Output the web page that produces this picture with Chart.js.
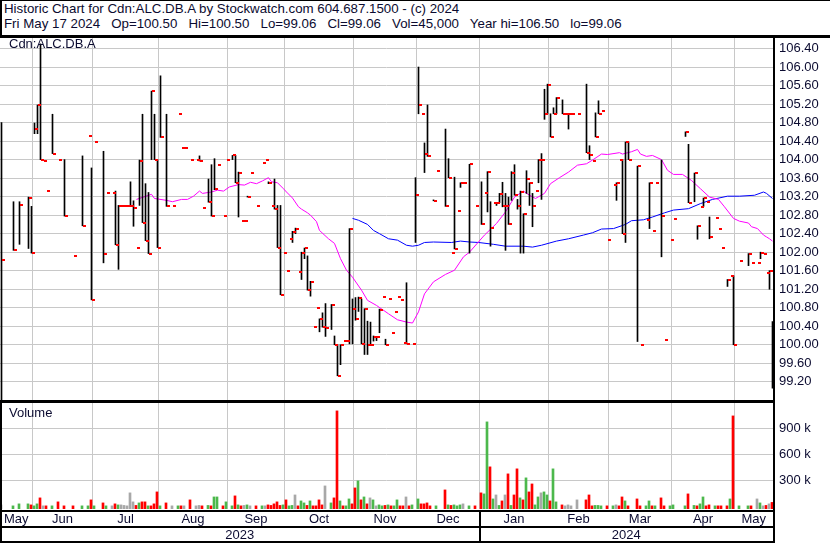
<!DOCTYPE html>
<html>
<head>
<meta charset="utf-8">
<script src="https://cdn.jsdelivr.net/npm/chart.js@4.4.1/dist/chart.umd.min.js"></script>
<style>
  body { margin: 0; background: #fff; }
  #wrap { position: relative; width: 830px; height: 543px; overflow: hidden; font-family: "Liberation Sans", Arial, sans-serif; color: #0b0b30; }
  .txt { position: absolute; font-size: 13px; line-height: 15px; white-space: pre; }
  .hdr { font-size: 13.3px; }
  .ln { position: absolute; background: #000; }
  canvas { position: absolute; left: 0; }
</style>
</head>
<body>
<div id="wrap">
  <div class="txt hdr" style="left:4px; top:1px;">Historic Chart for Cdn:ALC.DB.A by Stockwatch.com 604.687.1500 - (c) 2024</div>
  <div class="txt hdr" style="left:4px; top:16px;">Fri May 17 2024   Op=100.50   Hi=100.50   Lo=99.06   Cl=99.06   Vol=45,000   Year hi=106.50   lo=99.06</div>
  <canvas id="price" width="830" height="392" style="top:23px"></canvas>
  <canvas id="volume" width="830" height="155" style="top:388px"></canvas>
  <div class="txt" style="left:9px; top:36px;">Cdn:ALC.DB.A</div>
  <div class="txt" style="left:9px; top:405px;">Volume</div>
  <div class="ln" style="left:0; top:0; width:830px; height:1px"></div>
  <div class="ln" style="left:0; top:35px; width:830px; height:3px"></div>
  <div class="ln" style="left:0; top:0; width:2px; height:38px"></div>
  <div class="ln" style="left:0; top:400px; width:2px; height:143px"></div>
  <div class="ln" style="left:0; top:400px; width:775px; height:3px"></div>
  <div class="ln" style="left:0; top:510px; width:775px; height:2px"></div>
  <div class="ln" style="left:0; top:526px; width:775px; height:2px"></div>
  <div class="ln" style="left:0; top:541px; width:775px; height:2px"></div>
  <div class="ln" style="left:479px; top:510px; width:2px; height:33px"></div>
  <div class="ln" style="left:773px; top:36px; width:2px; height:507px"></div>
</div>
<script>
// trading day slots (0 = May 17 2023 ... 257 = May 17 2024)
const days   = [0,4,6,9,10,11,12,13,14,15,17,19,21,24,27,29,30,31,34,35,37,38,39,40,41,42,43,44,45,46,47,48,49,50,51,52,53,55,57,59,60,61,63,65,66,67,69,70,71,72,74,75,77,78,79,80,81,82,83,85,87,88,89,90,91,92,93,94,95,96,97,98,99,100,101,102,103,104,105,106,107,108,110,111,112,113,114,115,116,117,118,119,120,121,122,123,124,125,126,127,128,129,130,131,132,133,134,135,137,138,139,140,141,142,144,145,148,149,150,151,152,153,154,156,158,160,161,162,163,164,165,166,167,168,169,170,171,172,173,174,175,176,177,178,179,180,181,182,183,184,185,187,188,189,190,192,195,196,197,198,199,200,202,204,205,206,207,208,209,212,213,215,216,217,218,220,221,223,224,228,229,231,232,233,234,235,236,238,239,240,242,243,244,246,249,250,252,253,254,255,256,257];
const highs  = [104.80,103.09,103.09,103.19,102.99,104.79,105.18,106.50,null,null,104.98,null,104.00,null,104.08,null,103.82,null,104.18,null,null,103.32,103.01,null,null,null,103.52,103.11,null,103.99,104.98,103.48,103.29,105.48,104.98,104.00,105.81,104.98,null,null,null,null,null,null,104.08,null,103.58,103.89,104.02,null,null,null,104.09,104.09,103.73,null,null,103.21,null,null,null,null,103.52,null,103.58,103.01,103.01,null,null,null,102.45,102.52,null,102.00,102.09,101.92,101.37,null,null,100.56,100.69,100.89,100.87,100.19,100.00,100.00,null,null,102.51,100.99,101.02,101.03,100.99,100.78,100.51,100.49,100.19,100.17,100.77,null,100.12,null,null,null,null,null,null,101.34,null,103.61,106.00,null,104.36,105.18,103.13,null,104.66,104.02,null,103.62,null,103.50,null,103.90,null,103.52,null,103.74,103.09,null,103.07,103.27,103.51,103.27,103.19,103.74,103.89,103.14,103.32,102.83,103.76,103.50,103.27,null,104.00,104.13,105.52,105.63,104.99,105.12,105.34,105.29,null,104.99,null,null,105.63,104.30,null,105.01,105.27,null,null,null,103.50,null,104.00,104.38,104.38,103.86,null,null,103.50,null,null,103.99,null,null,null,104.60,104.33,103.71,102.57,null,103.17,null,102.76,null,null,null,101.41,null,101.49,null,101.97,null,null,102.00,null,null,101.60,100.50];
const lows   = [98.50,102.04,102.17,102.08,101.98,104.56,104.56,104.00,null,null,104.13,null,102.78,null,102.57,null,100.97,null,101.77,null,null,102.16,101.63,null,null,null,102.99,102.56,null,103.01,102.64,102.25,101.97,104.00,104.00,102.10,104.48,102.99,null,null,null,null,null,null,103.97,null,103.08,102.78,103.35,null,null,null,104.00,103.50,102.76,null,null,103.19,null,null,null,null,103.48,null,102.93,102.10,101.08,null,null,null,102.21,102.40,null,101.41,101.86,101.18,101.05,null,null,100.28,100.38,100.18,100.33,100.00,99.33,99.57,null,null,100.02,100.02,100.53,100.72,100.02,99.79,99.79,99.99,100.08,100.09,100.26,null,100.00,null,null,null,null,null,null,100.02,null,102.21,104.99,null,103.72,104.07,103.11,null,102.99,103.61,null,102.07,null,103.40,null,101.98,null,102.60,null,102.87,102.13,null,103.01,103.07,102.98,102.04,102.60,103.12,103.23,102.93,101.98,101.98,103.27,103.01,102.55,null,103.50,103.14,104.87,104.99,104.49,104.99,104.99,104.99,null,104.66,null,null,104.15,104.00,null,104.49,104.99,null,null,null,103.12,null,102.40,102.21,104.00,100.07,null,null,102.51,null,null,101.90,null,null,null,104.50,103.07,103.09,102.28,null,102.99,null,102.29,null,null,null,101.26,null,100.00,null,101.71,null,null,101.86,null,null,101.20,99.06];
const closes = [101.84,102.04,103.01,103.18,101.98,104.66,105.17,104.00,103.97,103.32,104.13,104.00,102.78,101.92,102.57,104.50,100.97,104.37,101.96,103.27,103.27,102.16,102.99,102.99,102.99,102.99,102.99,102.96,102.10,103.97,102.64,102.25,101.97,105.48,104.00,102.10,104.48,102.99,102.99,104.99,104.25,104.25,103.99,103.99,103.97,102.96,103.09,102.78,103.36,103.89,102.78,103.99,104.09,103.50,103.71,102.68,102.68,103.19,103.70,102.99,103.93,103.99,103.50,102.99,102.93,102.10,101.08,101.98,101.59,102.29,102.44,102.50,101.58,101.98,102.08,101.19,101.36,100.39,100.80,100.56,100.38,100.37,100.87,100.00,99.33,100.00,100.09,100.08,102.51,100.78,100.56,101.00,100.02,100.78,100.00,99.99,100.17,100.17,100.76,101.04,100.00,100.99,100.25,100.71,101.04,100.97,100.04,100.02,100.02,103.24,105.17,104.99,104.13,104.07,103.11,103.76,102.99,103.61,101.98,102.07,102.90,103.50,103.50,103.90,102.99,102.60,103.27,103.74,102.52,103.07,103.07,103.25,102.99,102.99,102.60,103.72,103.23,102.99,103.30,102.83,103.59,103.50,103.00,103.32,104.00,104.00,104.99,105.62,104.49,104.99,105.33,104.99,104.99,104.99,104.99,104.99,104.15,104.09,103.96,104.49,104.99,105.06,102.27,103.46,103.50,104.00,102.40,104.38,104.00,103.86,100.00,102.70,103.50,102.46,103.50,102.78,100.10,102.26,102.72,104.60,103.07,103.71,102.57,102.98,103.17,103.09,102.33,102.74,102.50,102.09,101.41,101.49,100.00,101.81,101.97,101.77,101.77,101.98,101.96,101.56,101.60,99.06];

// volume: day slot, shares, move (1 up, -1 down, 0 unchanged)
const volDays = [0,4,6,9,10,11,12,13,14,15,17,19,21,24,27,29,30,31,34,35,37,38,39,40,41,42,43,44,45,46,47,48,49,50,51,52,53,55,57,59,60,61,63,65,66,67,69,70,71,72,74,75,77,78,79,80,81,82,83,85,87,88,89,90,91,92,93,94,95,96,97,98,99,100,101,102,103,104,105,106,107,108,110,111,112,113,114,115,116,117,118,119,120,121,122,123,124,125,126,127,128,129,130,131,132,133,134,135,136,137,139,140,141,142,143,145,148,149,150,151,152,153,154,156,158,160,161,162,163,164,165,166,167,168,169,170,171,172,173,174,175,176,177,178,179,180,181,182,183,184,185,187,188,189,190,192,195,196,197,198,199,200,202,204,205,206,207,208,209,212,213,215,216,217,218,220,221,223,224,228,229,231,232,233,234,235,236,238,239,240,242,243,244,246,249,250,252,253,254,255,256,257];
const volumes = [16000,5000,28000,28000,16000,5000,28000,97000,5000,5000,5000,51000,5000,5000,5000,5000,74000,5000,39000,5000,5000,28000,16000,16000,10000,5000,155000,51000,10000,39000,51000,51000,5000,5000,28000,166000,5000,39000,5000,5000,5000,5000,74000,5000,10000,5000,10000,5000,108000,108000,5000,51000,5000,120000,16000,5000,10000,16000,5000,5000,5000,5000,16000,10000,28000,51000,10000,16000,74000,5000,10000,131000,5000,62000,39000,10000,62000,5000,5000,74000,16000,235000,39000,97000,1101000,62000,5000,5000,85000,28000,212000,293000,74000,108000,28000,97000,74000,5000,16000,5000,10000,16000,5000,5000,74000,5000,5000,108000,5000,16000,85000,28000,28000,39000,5000,5000,189000,16000,10000,16000,5000,16000,28000,5000,5000,155000,143000,974000,455000,85000,131000,10000,62000,131000,374000,10000,131000,432000,97000,74000,328000,166000,258000,16000,108000,155000,166000,131000,62000,432000,51000,16000,5000,16000,5000,74000,74000,131000,5000,10000,10000,5000,5000,5000,16000,5000,108000,62000,5000,85000,5000,5000,62000,5000,5000,97000,5000,5000,16000,5000,143000,10000,5000,28000,108000,5000,16000,5000,5000,5000,5000,85000,1043000,5000,5000,5000,85000,39000,5000,10000,28000,45000];
const volMove = [0,1,1,1,-1,1,1,-1,0,-1,1,-1,-1,-1,1,1,-1,1,-1,1,0,-1,1,0,0,0,0,0,-1,1,-1,-1,1,-1,-1,-1,1,-1,0,1,-1,0,-1,0,0,-1,1,-1,1,1,-1,1,1,-1,1,-1,0,1,0,-1,1,0,-1,-1,-1,-1,-1,1,-1,1,1,0,-1,1,1,-1,1,-1,-1,-1,-1,0,1,-1,-1,1,-1,1,1,-1,-1,1,-1,1,-1,0,1,0,1,1,-1,1,-1,1,1,-1,-1,0,-1,1,1,-1,-1,-1,-1,1,-1,1,-1,1,1,1,0,1,-1,-1,1,1,-1,1,0,1,-1,0,-1,1,-1,-1,1,-1,1,-1,-1,1,1,0,1,1,-1,1,1,-1,0,0,0,0,-1,-1,-1,1,1,1,-1,1,0,-1,-1,1,-1,-1,-1,1,1,-1,1,-1,-1,1,1,1,-1,1,-1,1,1,-1,-1,1,-1,-1,-1,1,-1,1,1,-1,0,1,0,-1,0,-1];

// moving averages
const maShortDays = [45,50,51,55,57,60,62,64,66,67,70,72,74,76,79,81,83,85,87,89,90,92,94,95,97,99,100,102,103,105,106,109,111,113,115,117,120,122,125,129,132,135,137,139,141,144,148,151,154,156,161,165,168,171,174,176,178,181,183,186,189,192,195,197,200,202,206,207,210,212,213,215,217,220,222,224,227,230,233,236,239,241,244,246,249,250,252,254,255,256,257];
const maShort = [103.14,103.25,103.16,103.12,103.09,103.14,103.14,103.21,103.32,103.27,103.30,103.34,103.32,103.41,103.46,103.45,103.51,103.48,103.54,103.61,103.52,103.50,103.37,103.30,103.17,102.98,102.93,102.85,102.80,102.66,102.47,102.29,102.19,101.86,101.61,101.46,101.18,100.96,100.85,100.67,100.54,100.49,100.47,100.71,101.10,101.36,101.52,101.61,101.90,102.00,102.37,102.62,102.87,103.19,103.32,103.23,103.16,103.27,103.48,103.61,103.73,103.88,103.91,103.99,104.12,104.11,104.15,104.12,104.17,104.22,104.12,104.07,104.09,104.00,103.77,103.68,103.68,103.55,103.37,103.19,103.14,102.98,102.73,102.67,102.63,102.55,102.51,102.37,102.33,102.29,102.24];
const maLongDays = [117,119,122,124,126,129,132,135,137,139,141,144,150,153,156,159,164,168,174,177,180,185,189,194,197,200,204,208,210,214,217,221,224,229,233,237,242,246,251,254,255,257];
const maLong = [102.73,102.69,102.60,102.47,102.40,102.29,102.26,102.15,102.13,102.15,102.21,102.22,102.21,102.24,102.22,102.21,102.17,102.13,102.13,102.11,102.15,102.24,102.29,102.37,102.42,102.50,102.51,102.60,102.68,102.70,102.76,102.85,102.91,102.94,103.05,103.14,103.21,103.21,103.23,103.30,103.27,103.16];

// price axis ticks, volume axis ticks, calendar
const priceTicks = [99.2,99.6,100.0,100.4,100.8,101.2,101.6,102.0,102.4,102.8,103.2,103.6,104.0,104.4,104.8,105.2,105.6,106.0,106.4];
const volTicks = [300000,600000,900000];
const monthNames = ['May','Jun','Jul','Aug','Sep','Oct','Nov','Dec','Jan','Feb','Mar','Apr','May'];
const monthStart = [11,31,53,76,95,118,139,160,183,203,224,245];
const yearNames = ['2023','2024'];
const yearStart = [160];

const TEXT = '#0b0b30';
const GRID = '#c8c8c8';
const FONT = { family: '"Liberation Sans", Arial, sans-serif', size: 13 };
const LAST = 257.1667;

function closeTick() {
  const c = document.createElement('canvas');
  c.width = 9; c.height = 2;
  const g = c.getContext('2d');
  g.fillStyle = '#ff0000';
  g.fillRect(5, 0, 3, 2);
  return c;
}

// keep the small close ticks crisp
const crisp = {
  id: 'crisp',
  beforeDatasetsDraw(chart) { chart.ctx.imageSmoothingEnabled = false; }
};

function monthGrid(scale) {
  scale.ticks = monthStart.map(d => ({ value: d - 0.5 }));
}

function rightAxis(ticks, fmt, min, max) {
  return {
    position: 'right', min, max,
    afterBuildTicks: s => { s.ticks = ticks.map(v => ({ value: v })); },
    afterFit: s => { s.width = 57; },
    grid: { color: GRID, drawTicks: false },
    border: { display: false },
    ticks: { color: TEXT, font: FONT, padding: 6, callback: fmt }
  };
}

const hiLo = [];
days.forEach((d, i) => { if (highs[i] !== null) hiLo.push({ x: d, y: [lows[i], highs[i]] }); });

new Chart(document.getElementById('price'), {
  type: 'bar',
  data: {
    datasets: [
      { type: 'line', data: maLongDays.map((d, i) => ({ x: d, y: maLong[i] })), borderColor: '#0000ff', borderWidth: 1, pointRadius: 0, order: 4 },
      { type: 'line', data: maShortDays.map((d, i) => ({ x: d, y: maShort[i] })), borderColor: '#ff00ff', borderWidth: 1, pointRadius: 0, order: 3 },
      { type: 'bar', data: hiLo, backgroundColor: '#000', barThickness: 1, grouped: false, order: 2 },
      { type: 'line', data: days.map((d, i) => ({ x: d, y: closes[i] })), showLine: false, pointStyle: closeTick(), pointRadius: 2, order: 1 }
    ]
  },
  options: {
    animation: false, responsive: false, events: [],
    layout: { autoPadding: false, padding: { top: 15, bottom: 15, left: 0, right: 0 } },
    plugins: { legend: { display: false }, tooltip: { enabled: false } },
    scales: {
      x: { type: 'linear', min: -0.5, max: LAST, offset: false, afterBuildTicks: monthGrid,
           grid: { color: GRID, drawTicks: false, offset: false }, border: { display: false }, ticks: { display: false } },
      y: rightAxis(priceTicks, v => v.toFixed(2), 98.807, 106.627)
    }
  },
  plugins: [crisp]
});

const calendar = {
  id: 'calendar',
  afterDraw(chart) {
    const { ctx, scales: { x } } = chart;
    const edges = [x.min, ...monthStart.map(d => d - 0.5), x.max];
    ctx.save();
    ctx.fillStyle = TEXT;
    ctx.font = '13px "Liberation Sans", Arial, sans-serif';
    ctx.textAlign = 'center';
    ctx.textBaseline = 'middle';
    monthNames.forEach((m, i) => {
      const px = (x.getPixelForValue(edges[i]) + x.getPixelForValue(edges[i + 1])) / 2;
      ctx.fillText(m, px, 131);
    });
    const yEdges = [x.min, ...yearStart.map(d => d - 0.5), x.max];
    yearNames.forEach((y, i) => {
      const px = (x.getPixelForValue(yEdges[i]) + x.getPixelForValue(yEdges[i + 1])) / 2;
      ctx.fillText(y, px, 147);
    });
    ctx.restore();
  }
};

const volColor = m => (m > 0 ? '#4cb84c' : m < 0 ? '#ff0000' : '#a8a8a8');

new Chart(document.getElementById('volume'), {
  type: 'bar',
  data: {
    datasets: [{
      data: volDays.map((d, i) => ({ x: d, y: volumes[i] })),
      backgroundColor: volMove.map(volColor),
      barThickness: 2, grouped: false, base: -31200
    }]
  },
  options: {
    animation: false, responsive: false, events: [],
    layout: { autoPadding: false, padding: { top: 15, bottom: 34, left: 0, right: 0 } },
    plugins: { legend: { display: false }, tooltip: { enabled: false } },
    scales: {
      x: { type: 'linear', min: -0.5 + 1 / 6, max: LAST + 1 / 6, offset: false, afterBuildTicks: monthGrid,
           grid: { color: GRID, drawTicks: false, offset: false }, border: { display: false }, ticks: { display: false } },
      y: rightAxis(volTicks, v => (v / 1000) + ' k', -31200, 1192000)
    }
  },
  plugins: [calendar]
});
</script>
</body>
</html>
